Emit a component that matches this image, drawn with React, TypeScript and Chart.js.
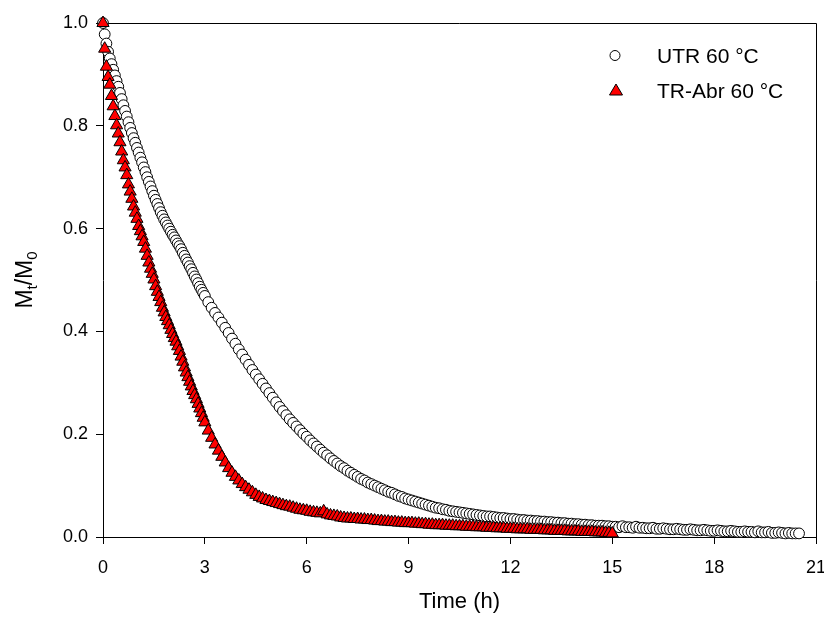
import { useEffect, useRef } from 'react';
import { Chart, registerables } from 'chart.js';

Chart.register(...registerables);

const FONT = '"Liberation Sans", Arial, sans-serif';

// sampling times (h): 3 min steps for the first 3 h, then 6 min
const earlyTimes = [
  0, 0.05, 0.1, 0.15, 0.2, 0.25, 0.3, 0.35, 0.4, 0.45,
  0.5, 0.55, 0.6, 0.65, 0.7, 0.75, 0.8, 0.85, 0.9, 0.95,
  1, 1.05, 1.1, 1.15, 1.2, 1.25, 1.3, 1.35, 1.4, 1.45,
  1.5, 1.55, 1.6, 1.65, 1.7, 1.75, 1.8, 1.85, 1.9, 1.95,
  2, 2.05, 2.1, 2.15, 2.2, 2.25, 2.3, 2.35, 2.4, 2.45,
  2.5, 2.55, 2.6, 2.65, 2.7, 2.75, 2.8, 2.85, 2.9, 2.95,
  3,
];

const trLateTimes = [
  3.1, 3.2, 3.3, 3.4, 3.5, 3.6, 3.7, 3.8, 3.9, 4,
  4.1, 4.2, 4.3, 4.4, 4.5, 4.6, 4.7, 4.8, 4.9, 5,
  5.1, 5.2, 5.3, 5.4, 5.5, 5.6, 5.7, 5.8, 5.9, 6,
  6.1, 6.2, 6.3, 6.4, 6.5, 6.6, 6.7, 6.8, 6.9, 7,
  7.1, 7.2, 7.3, 7.4, 7.5, 7.6, 7.7, 7.8, 7.9, 8,
  8.1, 8.2, 8.3, 8.4, 8.5, 8.6, 8.7, 8.8, 8.9, 9,
  9.1, 9.2, 9.3, 9.4, 9.5, 9.6, 9.7, 9.8, 9.9, 10,
  10.1, 10.2, 10.3, 10.4, 10.5, 10.6, 10.7, 10.8, 10.9, 11,
  11.1, 11.2, 11.3, 11.4, 11.5, 11.6, 11.7, 11.8, 11.9, 12,
  12.1, 12.2, 12.3, 12.4, 12.5, 12.6, 12.7, 12.8, 12.9, 13,
  13.1, 13.2, 13.3, 13.4, 13.5, 13.6, 13.7, 13.8, 13.9, 14,
  14.1, 14.2, 14.3, 14.4, 14.5, 14.6, 14.7, 14.8, 14.9, 15,
];

const utrLateTimes = [
  ...trLateTimes,
  15.1, 15.2, 15.3, 15.4, 15.5, 15.6, 15.7, 15.8, 15.9, 16,
  16.1, 16.2, 16.3, 16.4, 16.5, 16.6, 16.7, 16.8, 16.9, 17,
  17.1, 17.2, 17.3, 17.4, 17.5, 17.6, 17.7, 17.8, 17.9, 18,
  18.1, 18.2, 18.3, 18.4, 18.5, 18.6, 18.7, 18.8, 18.9, 19,
  19.1, 19.2, 19.3, 19.4, 19.5, 19.6, 19.7, 19.8, 19.9, 20,
  20.1, 20.2, 20.3, 20.4, 20.5,
];

// Mt/M0, UTR 60 °C
const utrValues = [
  1.000, 0.978, 0.960, 0.944, 0.931, 0.920, 0.909, 0.898, 0.887, 0.876,
  0.864, 0.852, 0.840, 0.829, 0.818, 0.807, 0.796, 0.786, 0.776, 0.767,
  0.757, 0.748, 0.738, 0.729, 0.719, 0.710, 0.700, 0.691, 0.682, 0.673,
  0.664, 0.656, 0.648, 0.640, 0.632, 0.625, 0.618, 0.612, 0.606, 0.600,
  0.594, 0.588, 0.583, 0.577, 0.571, 0.566, 0.560, 0.553, 0.547, 0.540,
  0.534, 0.527, 0.521, 0.514, 0.507, 0.501, 0.494, 0.487, 0.481, 0.475,
  0.469,
  0.457, 0.446, 0.436, 0.427, 0.417, 0.407, 0.397, 0.386, 0.376, 0.365,
  0.355, 0.345, 0.335, 0.325, 0.316, 0.307, 0.298, 0.289, 0.280, 0.271,
  0.262, 0.253, 0.245, 0.237, 0.229, 0.222, 0.215, 0.208, 0.201, 0.195,
  0.188, 0.182, 0.176, 0.170, 0.164, 0.159, 0.153, 0.148, 0.143, 0.138,
  0.134, 0.129, 0.125, 0.121, 0.117, 0.113, 0.110, 0.106, 0.103, 0.100,
  0.097, 0.094, 0.091, 0.088, 0.086, 0.083, 0.080, 0.078, 0.075, 0.073,
  0.071, 0.069, 0.067, 0.065, 0.063, 0.061, 0.059, 0.057, 0.056, 0.054,
  0.053, 0.051, 0.050, 0.049, 0.048, 0.047, 0.046, 0.045, 0.044, 0.043,
  0.042, 0.041, 0.040, 0.040, 0.039, 0.038, 0.037, 0.037, 0.036, 0.035,
  0.035, 0.034, 0.033, 0.033, 0.032, 0.032, 0.031, 0.031, 0.030, 0.030,
  0.029, 0.029, 0.028, 0.028, 0.027, 0.027, 0.026, 0.026, 0.025, 0.025,
  0.024, 0.024, 0.023, 0.023, 0.022, 0.022, 0.022, 0.021, 0.021, 0.020,
  0.020, 0.019, 0.021, 0.019, 0.019, 0.018, 0.020, 0.018, 0.018, 0.017,
  0.017, 0.018, 0.016, 0.016, 0.017, 0.016, 0.015, 0.015, 0.016, 0.015,
  0.014, 0.014, 0.015, 0.014, 0.013, 0.013, 0.014, 0.013, 0.012, 0.012,
  0.013, 0.012, 0.011, 0.011, 0.012, 0.011, 0.010, 0.010, 0.011, 0.010,
  0.010, 0.009, 0.011, 0.009, 0.009, 0.010, 0.008, 0.008, 0.009, 0.008,
  0.007, 0.008, 0.007, 0.007, 0.007,
];

// Mt/M0, TR-Abr 60 °C
const trValues = [
  1.000, 0.950, 0.915, 0.895, 0.880, 0.858, 0.838, 0.819, 0.801, 0.785,
  0.768, 0.750, 0.733, 0.719, 0.704, 0.686, 0.672, 0.658, 0.643, 0.631,
  0.619, 0.605, 0.595, 0.585, 0.574, 0.561, 0.547, 0.534, 0.522, 0.512,
  0.501, 0.488, 0.477, 0.467, 0.457, 0.446, 0.437, 0.428, 0.420, 0.412,
  0.403, 0.395, 0.387, 0.380, 0.371, 0.362, 0.351, 0.341, 0.330, 0.320,
  0.311, 0.302, 0.293, 0.284, 0.276, 0.268, 0.259, 0.250, 0.241, 0.232,
  0.223,
  0.207, 0.193, 0.180, 0.168, 0.156, 0.145, 0.134, 0.125, 0.117, 0.110,
  0.103, 0.097, 0.092, 0.087, 0.082, 0.078, 0.075, 0.072, 0.070, 0.068,
  0.066, 0.064, 0.062, 0.060, 0.059, 0.057, 0.055, 0.053, 0.052, 0.051,
  0.049, 0.048, 0.047, 0.046, 0.050, 0.044, 0.042, 0.041, 0.040, 0.038,
  0.037, 0.036, 0.036, 0.035, 0.035, 0.034, 0.034, 0.033, 0.033, 0.032,
  0.031, 0.031, 0.030, 0.030, 0.029, 0.029, 0.028, 0.028, 0.027, 0.027,
  0.027, 0.026, 0.026, 0.025, 0.025, 0.024, 0.024, 0.023, 0.023, 0.023,
  0.022, 0.022, 0.022, 0.021, 0.021, 0.021, 0.020, 0.020, 0.020, 0.019,
  0.019, 0.019, 0.018, 0.018, 0.018, 0.017, 0.017, 0.017, 0.016, 0.016,
  0.016, 0.015, 0.015, 0.015, 0.015, 0.014, 0.014, 0.014, 0.014, 0.013,
  0.013, 0.013, 0.012, 0.012, 0.012, 0.012, 0.011, 0.011, 0.011, 0.011,
  0.010, 0.010, 0.010, 0.010, 0.009, 0.009, 0.009, 0.008, 0.008, 0.007,
];

const seriesLabels = ['UTR 60 °C', 'TR-Abr 60 °C'];

const utrTimes = [...earlyTimes, ...utrLateTimes];
const trTimes = [...earlyTimes, ...trLateTimes];

// frame, axis titles and legend are drawn by hand
const decorPlugin = {
  id: 'decor',
  beforeDatasetsDraw(chart: any) {
    const { ctx, chartArea } = chart;
    const { left, top, right, bottom } = chartArea;
    ctx.save();
    ctx.strokeStyle = '#000';
    ctx.lineWidth = 1;
    ctx.beginPath();
    ctx.moveTo(left, top + 0.5);
    ctx.lineTo(right + 0.5, top + 0.5);
    ctx.lineTo(right + 0.5, bottom);
    ctx.stroke();
    ctx.restore();
  },
  afterDraw(chart: any) {
    const { ctx, chartArea } = chart;
    const midX = (chartArea.left + chartArea.right) / 2;
    const midY = (chartArea.top + chartArea.bottom) / 2;
    ctx.save();
    ctx.fillStyle = '#000';

    // x title
    ctx.font = `22px ${FONT}`;
    ctx.textAlign = 'center';
    ctx.textBaseline = 'alphabetic';
    ctx.fillText('Time (h)', midX, 608);

    // y title with subscripts
    const big = `23px ${FONT}`;
    const small = `15px ${FONT}`;
    const parts: [string, boolean][] = [['M', false], ['t', true], ['/M', false], ['0', true]];
    let total = 0;
    parts.forEach(([s, sub]) => {
      ctx.font = sub ? small : big;
      total += ctx.measureText(s).width;
    });
    ctx.translate(32, midY);
    ctx.rotate(-Math.PI / 2);
    ctx.textAlign = 'left';
    let cx = -total / 2;
    parts.forEach(([s, sub]) => {
      ctx.font = sub ? small : big;
      ctx.fillText(s, cx, sub ? 5 : 0);
      cx += ctx.measureText(s).width;
    });
    ctx.setTransform(1, 0, 0, 1, 0, 0);
    const dpr = chart.currentDevicePixelRatio || 1;
    ctx.scale(dpr, dpr);

    // legend
    ctx.font = `21px ${FONT}`;
    ctx.textAlign = 'left';
    ctx.textBaseline = 'alphabetic';
    ctx.lineWidth = 1;
    ctx.strokeStyle = '#000';

    ctx.beginPath();
    ctx.arc(615, 55.5, 5, 0, Math.PI * 2);
    ctx.fillStyle = '#fff';
    ctx.fill();
    ctx.stroke();
    ctx.fillStyle = '#000';
    ctx.fillText(seriesLabels[0], 657, 63);

    ctx.beginPath();
    ctx.moveTo(616, 84);
    ctx.lineTo(622.5, 95);
    ctx.lineTo(609.5, 95);
    ctx.closePath();
    ctx.fillStyle = '#ff0000';
    ctx.fill();
    ctx.stroke();
    ctx.fillStyle = '#000';
    ctx.fillText(seriesLabels[1], 657, 98);
    ctx.restore();
  },
};

const App = () => {
  const canvasRef = useRef<HTMLCanvasElement>(null);
  const chartRef = useRef<Chart | null>(null);

  useEffect(() => {
    if (!canvasRef.current) return;
    if (chartRef.current) chartRef.current.destroy();

    chartRef.current = new Chart(canvasRef.current, {
      type: 'scatter',
      data: {
        datasets: [
          {
            label: seriesLabels[0],
            data: utrTimes.map((t, i) => ({ x: t, y: utrValues[i] })),
            pointStyle: 'circle',
            pointRadius: 5.4,
            pointBackgroundColor: '#ffffff',
            pointBorderColor: '#000000',
            pointBorderWidth: 1,
            showLine: false,
            clip: false,
            order: 1,
          },
          {
            label: seriesLabels[1],
            data: trTimes.map((t, i) => ({ x: t, y: trValues[i] })),
            pointStyle: 'triangle',
            pointRadius: 7,
            pointBackgroundColor: '#ff0000',
            pointBorderColor: '#000000',
            pointBorderWidth: 1,
            showLine: false,
            clip: false,
            order: 0,
          },
        ],
      },
      options: {
        animation: false,
        responsive: true,
        maintainAspectRatio: false,
        events: [],
        layout: { padding: { left: 0, top: 23, right: 7, bottom: 0 } },
        plugins: {
          legend: { display: false },
          tooltip: { enabled: false },
        },
        scales: {
          x: {
            type: 'linear',
            min: 0,
            max: 21,
            afterFit: (scale: any) => {
              scale.height = 80;
              scale.paddingLeft = 0;
              scale.paddingRight = 0;
            },
            ticks: {
              stepSize: 3,
              color: '#000',
              padding: 13,
              font: { family: FONT, size: 18 },
            },
            grid: {
              drawOnChartArea: false,
              drawTicks: true,
              tickLength: 7,
              tickColor: '#000',
              tickWidth: 1,
            },
            border: { color: '#000', width: 1 },
          },
          y: {
            type: 'linear',
            min: 0,
            max: 1,
            afterFit: (scale: any) => {
              scale.width = 103;
              scale.paddingTop = 0;
              scale.paddingBottom = 0;
            },
            ticks: {
              stepSize: 0.2,
              color: '#000',
              padding: 8,
              font: { family: FONT, size: 18 },
              callback: (v: any) => Number(v).toFixed(1),
            },
            grid: {
              drawOnChartArea: false,
              drawTicks: true,
              tickLength: 7,
              tickColor: '#000',
              tickWidth: 1,
            },
            border: { color: '#000', width: 1 },
          },
        },
      },
      plugins: [decorPlugin],
    });

    return () => {
      if (chartRef.current) {
        chartRef.current.destroy();
        chartRef.current = null;
      }
    };
  }, []);

  return (
    <div style={{ position: 'absolute', left: 0, top: 0, width: 824, height: 617, background: '#fff' }}>
      <canvas ref={canvasRef}></canvas>
    </div>
  );
};

export default App;
